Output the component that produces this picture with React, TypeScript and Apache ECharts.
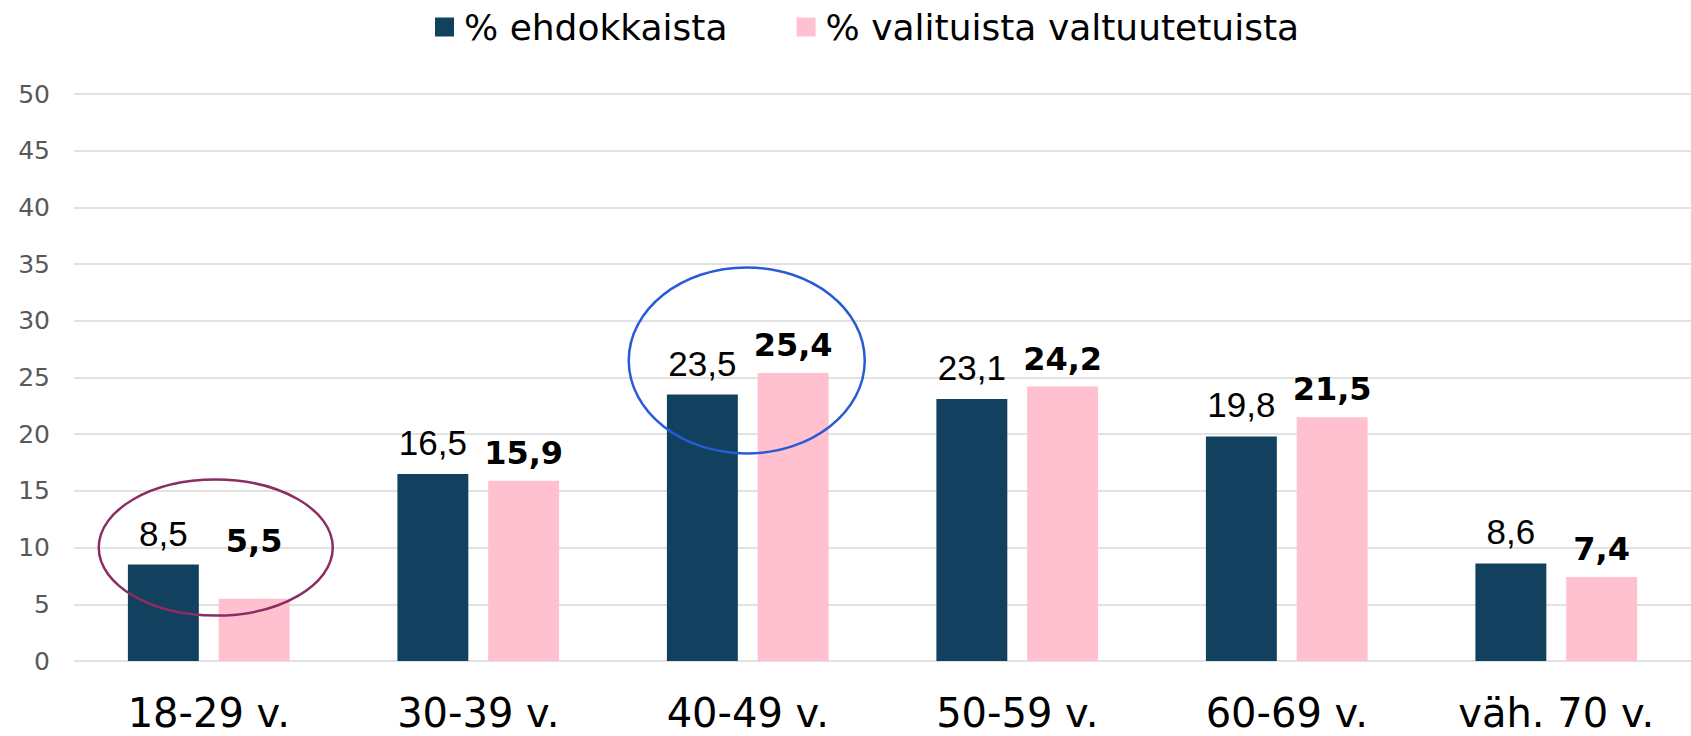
import React, { useEffect, useRef } from "react";
import * as echarts from "echarts";

const categories = ["18-29 v.", "30-39 v.", "40-49 v.", "50-59 v.", "60-69 v.", "väh. 70 v."];
const candidatesPct = [8.5, 16.5, 23.5, 23.1, 19.8, 8.6];
const electedPct = [5.5, 15.9, 25.4, 24.2, 21.5, 7.4];
const seriesNames = ["% ehdokkaista", "% valituista valtuutetuista"];
const yMin = 0;
const yMax = 50;
const yInterval = 5;

const fmt = (p: any) => String(p.value).replace(".", ",");

export default function App() {
  const ref = useRef<HTMLDivElement>(null);
  useEffect(() => {
    document.body.style.margin = "0";
    const chart = echarts.init(ref.current!, null, { renderer: "svg" });
    chart.setOption({
      animation: false,
      backgroundColor: "#ffffff",
      legend: {
        top: 4,
        left: 430,
        itemWidth: 19,
        itemHeight: 19,
        itemGap: 69,
        icon: "rect",
        textStyle: { fontFamily: "DejaVu Sans", fontSize: 36, color: "#000", padding: [0, 0, 0, 5] },
        data: seriesNames,
      },
      grid: { left: 74, right: -3, top: 94, bottom: 75, containLabel: false },
      xAxis: {
        type: "category",
        data: categories,
        axisLine: { show: false },
        axisTick: { show: false },
        axisLabel: { fontFamily: "DejaVu Sans", fontSize: 40, color: "#000", margin: 32 },
      },
      yAxis: {
        type: "value",
        min: yMin,
        max: yMax,
        interval: yInterval,
        axisLine: { show: false },
        axisTick: { show: false },
        axisLabel: { fontFamily: "DejaVu Sans", fontSize: 25, color: "#595959", margin: 24 },
        splitLine: { lineStyle: { color: "#d9d9d9", width: 1.5 } },
      },
      series: [
        {
          name: seriesNames[0],
          type: "bar",
          data: candidatesPct,
          barGap: "28%",
          barCategoryGap: "40%",
          itemStyle: { color: "#12405f" },
          label: {
            show: true,
            position: "top",
            distance: 14,
            formatter: fmt,
            fontFamily: "Liberation Sans",
            fontSize: 35,
            color: "#000",
          },
        },
        {
          name: seriesNames[1],
          type: "bar",
          data: electedPct.map((v, i) => (i === 0 ? { value: v, label: { offset: [0, -30] } } : v)),
          itemStyle: { color: "#ffc0cf" },
          label: {
            show: true,
            position: "top",
            distance: 12,
            formatter: fmt,
            fontFamily: "DejaVu Sans",
            fontWeight: "bold",
            fontSize: 32,
            color: "#000",
          },
        },
      ],
    });
    const p1 = chart.convertToPixel({ gridIndex: 0 }, [0, 10]) as number[];
    const p2 = chart.convertToPixel({ gridIndex: 0 }, [2, 26.5]) as number[];
    chart.setOption({
      graphic: [
        {
          type: "ellipse",
          shape: { cx: p1[0] + 7, cy: p1[1], rx: 117, ry: 68 },
          style: { fill: "none", stroke: "#8b2d62", lineWidth: 2.5 },
          z: 100,
        },
        {
          type: "ellipse",
          shape: { cx: p2[0] - 1, cy: p2[1], rx: 118, ry: 93 },
          style: { fill: "none", stroke: "#2a5bd7", lineWidth: 2.5 },
          z: 100,
        },
      ],
    });
    return () => chart.dispose();
  }, []);
  return <div ref={ref} style={{ width: 1691, height: 736 }} />;
}
